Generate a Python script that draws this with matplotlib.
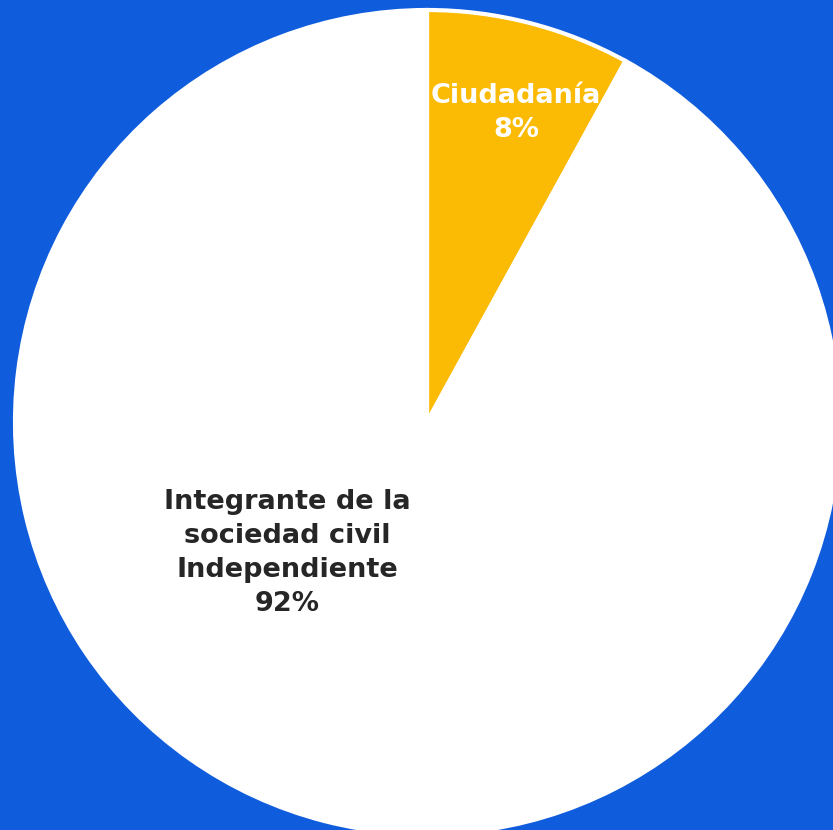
import matplotlib.pyplot as plt

labels = ['Ciudadanía', 'Integrante de la\nsociedad civil\nIndependiente']
values = [8, 92]
colors = ['#FBBA04', '#FFFFFF']
text_colors = ['#FFFFFF', '#262626']

bg = '#0F5CDD'

fig = plt.figure(figsize=(8.33, 8.30), dpi=100, facecolor=bg)
ax = fig.add_axes([0, 0, 1, 1])
ax.set_facecolor(bg)

# pie centre at (427, 422) px, radius 412 px
cx, cy, r = 427, 422, 412
ax.pie(values, colors=colors, startangle=90, counterclock=False,
       wedgeprops={'edgecolor': 'white', 'linewidth': 3})
ax.set_xlim(-cx / r, (833 - cx) / r)
ax.set_ylim(-(830 - cy) / r, cy / r)
ax.set_aspect('auto')
ax.axis('off')

# label spots (fraction of radius)
label_pos = [(0.216, 0.750), (-0.340, -0.318)]
for lab, v, tc, (x, y) in zip(labels, values, text_colors, label_pos):
    ax.text(x, y, f'{lab}\n{v}%', ha='center', va='center', color=tc,
            fontsize=19.5, fontweight='bold', family='DejaVu Sans',
            linespacing=1.4)

fig.savefig('out.png', dpi=100, facecolor=bg)
